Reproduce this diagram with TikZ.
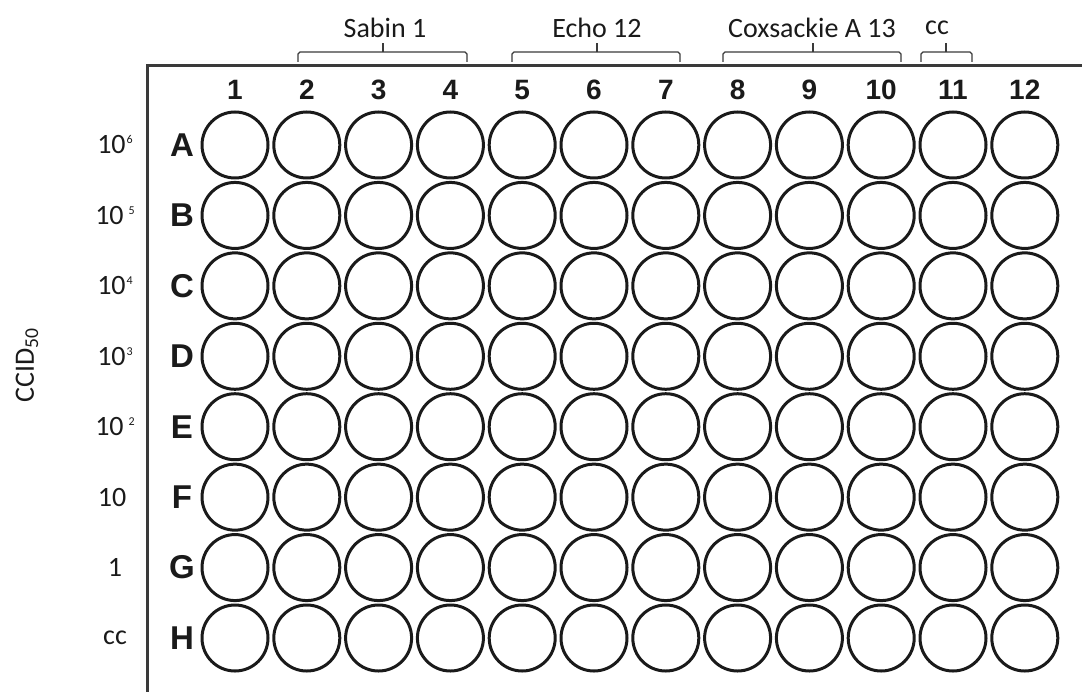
\documentclass[tikz,border=0pt]{standalone}
\usepackage{fontspec}
\setmainfont{Carlito}
\newfontfamily\platefont{Liberation Sans}
\usetikzlibrary{positioning}
\definecolor{Ink}{HTML}{1A1A1A}
\definecolor{FrameGray}{HTML}{3A3A3A}
\newcommand{\expo}[1]{\raisebox{10pt}{\fontsize{12}{12}\selectfont #1}}

\begin{document}
\begin{tikzpicture}[x=1pt, y=-1pt,
    well/.style={circle, draw=Ink, line width=3pt, minimum size=66pt, inner sep=0pt},
    colnum/.style={font=\platefont\bfseries\fontsize{28}{30}\selectfont, text=Ink},
    rowlet/.style={font=\platefont\bfseries\fontsize{33}{36}\selectfont, text=Ink},
    dose/.style={font=\fontsize{28}{30}\selectfont, text=Ink},
    group/.style={font=\fontsize{28}{30}\selectfont, text=Ink},
    bracket/.style={draw=FrameGray, line width=1.3pt}]
  \useasboundingbox (0,0) rectangle (1082,692);

  % The plate outline (open to the right and bottom).
  \draw[FrameGray, line width=3pt] (147,692) -- (147,66) -- (1082,66);

  % Column numbers and the wells.
  \foreach \c in {1,...,12} {
    \node[colnum] (col\c) at ({235+71.8*(\c-1)},90) {\c};
  }
  \foreach \r [count=\i] in {A,B,C,D,E,F,G,H} {
    \node[rowlet] (row\r) at (182,{145+70.43*(\i-1)}) {\r};
    \foreach \c in {1,...,12} {
      \node[well] (\r\c) at ({235+71.8*(\c-1)},{145+70.43*(\i-1)}) {};
    }
  }

  % Virus doses per row.
  \node[dose] (doseA) at (115,145) {10\kern1pt\expo{6}};
  \node[dose] (doseB) at (115,215.4) {10\kern5pt\expo{5}};
  \node[dose] (doseC) at (115,285.9) {10\kern1pt\expo{4}};
  \node[dose] (doseD) at (115,356.3) {10\kern1pt\expo{3}};
  \node[dose] (doseE) at (115,426.7) {10\kern5pt\expo{2}};
  \node[dose] (doseF) at (112,497.2) {10};
  \node[dose] (doseG) at (115,567.6) {1};
  \node[dose] (doseH) at (115,638) {cc};
  \node[font=\fontsize{28}{30}\selectfont, text=Ink, rotate=90] (ccid) at (27,365)
    {CCID\textsubscript{50}};

  % Virus groups over the columns.
  \foreach \lft/\rgt/\mid/\lx/\name/\txt in {298/467/383/385/sabin/Sabin 1,
      512/680/597/597/echo/Echo 12, 723/901/813/812/coxsackie/Coxsackie A 13,
      921/972/946/937/control/cc} {
    \node[group] (\name) at (\lx,28) {\txt};
    \draw[bracket] (\lft,62) -- (\lft,54) -- ++(2,-2) -- (\rgt-2,52) -- (\rgt,54) -- (\rgt,62);
    \draw[bracket] (\mid,52) -- (\mid,43);
  }
\end{tikzpicture}
\end{document}
